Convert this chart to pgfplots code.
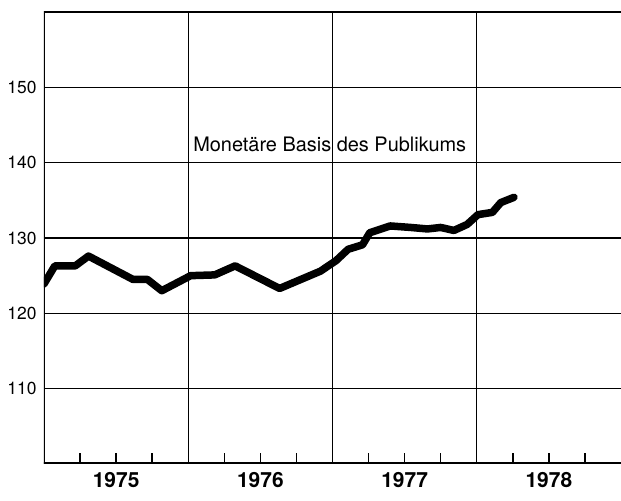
\documentclass[border=0pt]{standalone}
\usepackage{fontspec}
\setmainfont{TeX Gyre Heros}
\usepackage{pgfplots}
\pgfplotsset{compat=1.18}
\begin{document}
\begin{tikzpicture}
\begin{axis}[
  scale only axis, width=577bp, height=452bp,
  xmin=0, xmax=48, ymin=100, ymax=160,
  axis line style={draw=none},
  ytick={110,120,130,140,150},
  ymajorgrids, grid style={black, line width=1.1bp},
  xtick={3,6,9,15,18,21,27,30,33,39,42,45},
  xticklabels={},
  tick align=inside, xtick pos=left, ytick pos=left,
  x tick style={black, line width=1.5bp},
  major tick length=11bp,
  y tick style={draw=none},
  extra x ticks={6,18,30,42},
  extra x tick labels={1975,1976,1977,1978},
  extra x tick style={major tick length=0pt, xticklabel style={font=\fontsize{21}{25}\selectfont\bfseries, yshift=-5bp}},
  yticklabel style={font=\fontsize{17.5}{20}\selectfont, xshift=-4bp},
  /pgf/number format/assume math mode=true,
]
\coordinate (sw) at (rel axis cs:0,0);
\coordinate (ne) at (rel axis cs:1,1);
\draw[line width=1.4bp] (axis cs:12,100) -- (axis cs:12,160);
\draw[line width=1.4bp] (axis cs:24,100) -- (axis cs:24,160);
\draw[line width=1.4bp] (axis cs:36,100) -- (axis cs:36,160);
\addplot[black, line width=7.5bp, line join=round, line cap=round] coordinates {
(0,123.9) (0.9,126.3) (2.6,126.3) (3.7,127.6) (7.4,124.5) (8.6,124.5) (9.8,123.0)
(12.2,125.0) (14.2,125.1) (15.9,126.3) (19.6,123.3) (23.0,125.6) (24.3,127.0)
(25.3,128.5) (26.5,129.1) (27.1,130.7) (28.8,131.6) (30.5,131.4) (31.9,131.2)
(33.0,131.4) (34.1,131.0) (35.2,131.8) (36.1,133.1) (37.3,133.4) (38.0,134.7) (39.1,135.4)
};
\node[anchor=base west, font=\fontsize{20}{24}\selectfont, inner sep=0pt] at (axis cs:12.4,141.45) {Monetäre Basis des Publikums};
\draw[line width=3bp, line cap=rect] (rel axis cs:0,0) -- (rel axis cs:1,0);
\draw[line width=3bp, line cap=rect] (rel axis cs:0,0) -- (rel axis cs:0,1) -- (rel axis cs:1,1);
\draw[line width=0.8bp] (rel axis cs:1,0) -- (rel axis cs:1,1);
\end{axis}
\pgfresetboundingbox
\path ([shift={(-44bp,-37bp)}]sw) rectangle ([shift={(0bp,12bp)}]ne);
\end{tikzpicture}
\end{document}
